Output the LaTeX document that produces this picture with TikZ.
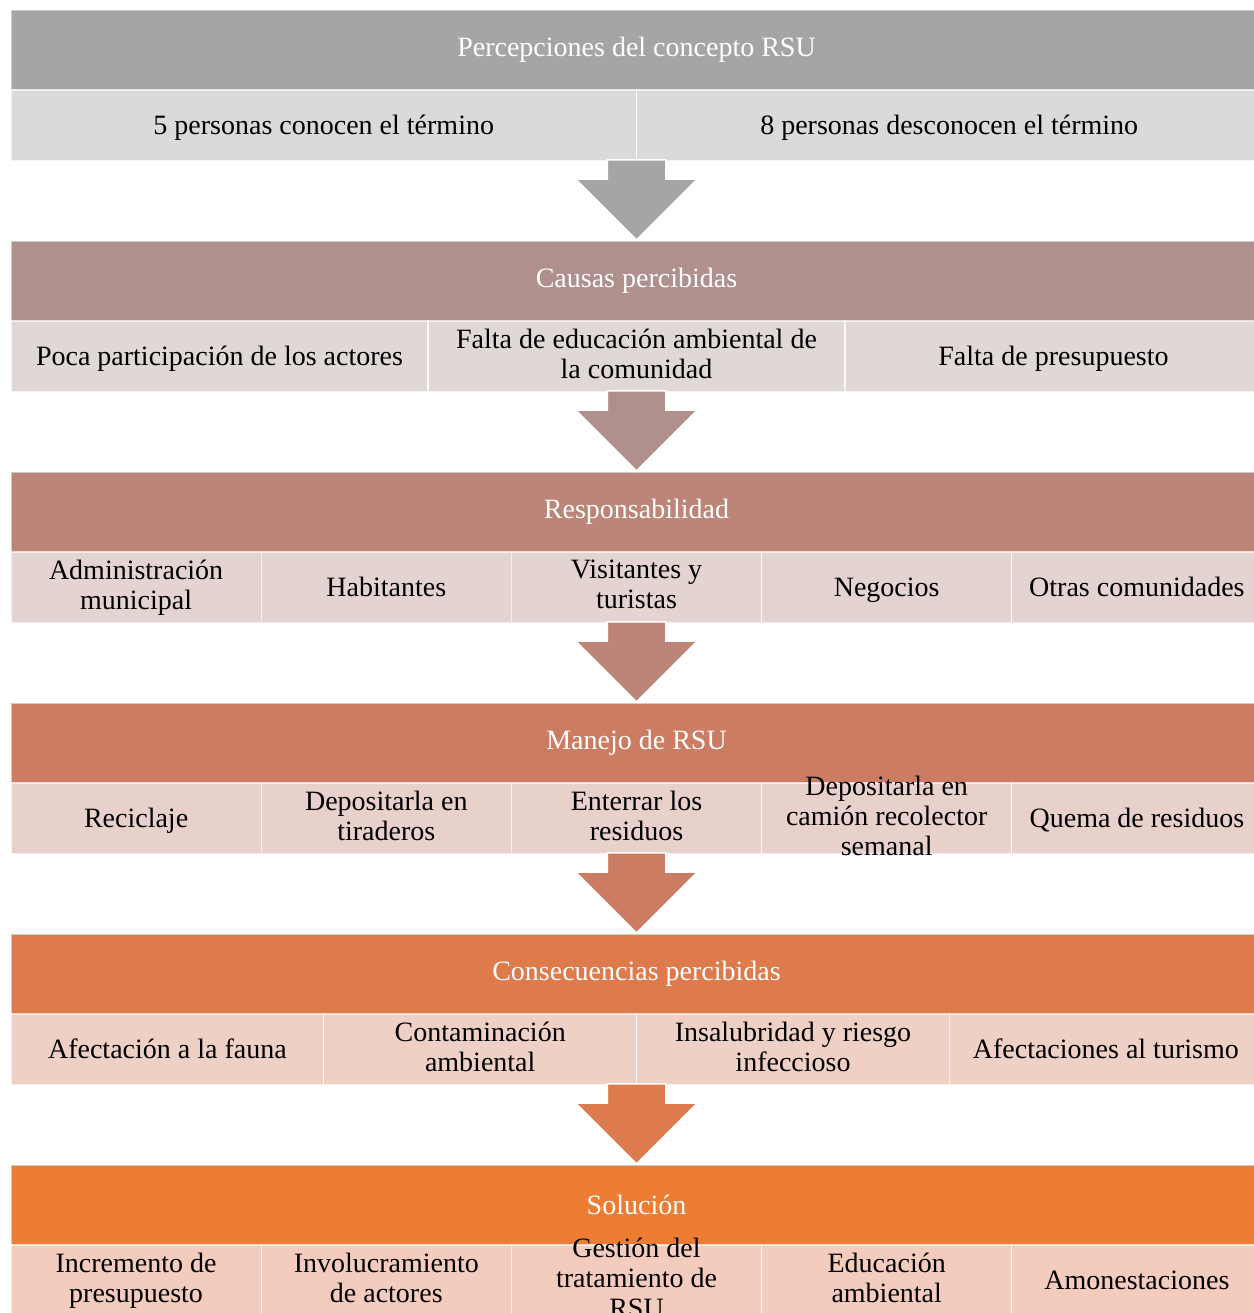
\documentclass[tikz,border=0pt]{standalone}
\usepackage{fontspec}
\setmainfont{Liberation Serif}
\usetikzlibrary{positioning}
\usetikzlibrary{shapes.arrows}

\definecolor{hdA}{HTML}{A5A5A5}
\definecolor{rwA}{HTML}{DBDADB}
\definecolor{hdB}{HTML}{AF908D}
\definecolor{rwB}{HTML}{DFD8D7}
\definecolor{hdC}{HTML}{BC8578}
\definecolor{rwC}{HTML}{E3D3D1}
\definecolor{hdD}{HTML}{CC7C63}
\definecolor{rwD}{HTML}{E9D1CB}
\definecolor{hdE}{HTML}{DD7B4D}
\definecolor{rwE}{HTML}{EED0C5}
\definecolor{hdF}{HTML}{EC7D33}
\definecolor{rwF}{HTML}{F3CCBD}

\newcommand{\cellstrut}{\rule[-3pt]{0pt}{15pt}}

\begin{document}
\begin{tikzpicture}[x=0.5pt,y=-0.5pt,font=\fontsize{14}{15}\selectfont]
    \tikzset{hdr/.style={draw=black!20, line width=0.5pt, minimum width=625.5pt, minimum height=40pt, inner sep=0pt, outer sep=0pt, text=white},
             cell/.style={draw=white, draw opacity=0.7, line width=0.6pt, minimum height=35.5pt, inner sep=1pt, outer sep=0pt, align=center,
                          execute at begin node=\cellstrut, execute at end node=\cellstrut},
             overfull/.style={inner ysep=-8pt},
             downarrow/.style={single arrow, single arrow head extend=15.75pt, single arrow tip angle=90, single arrow head indent=0pt,
                               minimum height=40pt, minimum width=60pt, inner xsep=0pt, inner ysep=14.25pt,
                               draw=white, line width=0.75pt, rotate=-90}}

    \fill[white] (0,0) rectangle (1254,1313);
    \useasboundingbox (0,0) rectangle (1254,1313);

    % percepciones
    \node [hdr, fill=hdA] (hA) at (636.5,50) {Percepciones del concepto RSU};
    \node [cell, fill=rwA, minimum width=312.75pt, anchor=north west] (rA1) at (hA.south west) {5 personas conocen el término};
    \node [cell, fill=rwA, minimum width=312.75pt, right=0pt of rA1] (rA2) {8 personas desconocen el término};

    % causas
    \node [hdr, fill=hdB] (hB) at (636.5,281) {Causas percibidas};
    \node [downarrow, fill=hdA, anchor=tip] (aA) at (hB.north) {};
    \node [cell, fill=rwB, minimum width=208.5pt, anchor=north west] (rB1) at (hB.south west) {Poca participación de los actores};
    \node [cell, fill=rwB, minimum width=208.5pt, right=0pt of rB1] (rB2) {Falta de educación ambiental de\\la comunidad};
    \node [cell, fill=rwB, minimum width=208.5pt, right=0pt of rB2] (rB3) {Falta de presupuesto};

    % responsabilidad
    \node [hdr, fill=hdC] (hC) at (636.5,512) {Responsabilidad};
    \node [downarrow, fill=hdB, anchor=tip] (aB) at (hC.north) {};
    \node [cell, fill=rwC, minimum width=125.1pt, anchor=north west] (rC1) at (hC.south west) {Administración\\municipal};
    \node [cell, fill=rwC, minimum width=125.1pt, right=0pt of rC1] (rC2) {Habitantes};
    \node [cell, fill=rwC, minimum width=125.1pt, right=0pt of rC2] (rC3) {Visitantes y\\turistas};
    \node [cell, fill=rwC, minimum width=125.1pt, right=0pt of rC3] (rC4) {Negocios};
    \node [cell, fill=rwC, minimum width=125.1pt, right=0pt of rC4] (rC5) {Otras comunidades};

    % manejo
    \node [hdr, fill=hdD] (hD) at (636.5,743) {Manejo de RSU};
    \node [downarrow, fill=hdC, anchor=tip] (aC) at (hD.north) {};
    \node [cell, fill=rwD, minimum width=125.1pt, anchor=north west] (rD1) at (hD.south west) {Reciclaje};
    \node [cell, fill=rwD, minimum width=125.1pt, right=0pt of rD1] (rD2) {Depositarla en\\tiraderos};
    \node [cell, fill=rwD, minimum width=125.1pt, right=0pt of rD2] (rD3) {Enterrar los\\residuos};
    \node [cell, overfull, fill=rwD, minimum width=125.1pt, right=0pt of rD3] (rD4) {Depositarla en\\camión recolector\\semanal};
    \node [cell, fill=rwD, minimum width=125.1pt, right=0pt of rD4] (rD5) {Quema de residuos};

    % consecuencias
    \node [hdr, fill=hdE] (hE) at (636.5,974) {Consecuencias percibidas};
    \node [downarrow, fill=hdD, anchor=tip] (aD) at (hE.north) {};
    \node [cell, fill=rwE, minimum width=156.4pt, anchor=north west] (rE1) at (hE.south west) {Afectación a la fauna};
    \node [cell, fill=rwE, minimum width=156.4pt, right=0pt of rE1] (rE2) {Contaminación\\ambiental};
    \node [cell, fill=rwE, minimum width=156.4pt, right=0pt of rE2] (rE3) {Insalubridad y riesgo\\infeccioso};
    \node [cell, fill=rwE, minimum width=156.4pt, right=0pt of rE3] (rE4) {Afectaciones al turismo};

    % solucion
    \node [hdr, fill=hdF] (hF) at (636.5,1205) {Solución};
    \node [downarrow, fill=hdE, anchor=tip] (aE) at (hF.north) {};
    \node [cell, fill=rwF, minimum width=125.1pt, anchor=north west] (rF1) at (hF.south west) {Incremento de\\presupuesto};
    \node [cell, fill=rwF, minimum width=125.1pt, right=0pt of rF1] (rF2) {Involucramiento\\de actores};
    \node [cell, overfull, fill=rwF, minimum width=125.1pt, right=0pt of rF2] (rF3) {Gestión del\\tratamiento de\\RSU};
    \node [cell, fill=rwF, minimum width=125.1pt, right=0pt of rF3] (rF4) {Educación\\ambiental};
    \node [cell, fill=rwF, minimum width=125.1pt, right=0pt of rF4] (rF5) {Amonestaciones};
\end{tikzpicture}
\end{document}
